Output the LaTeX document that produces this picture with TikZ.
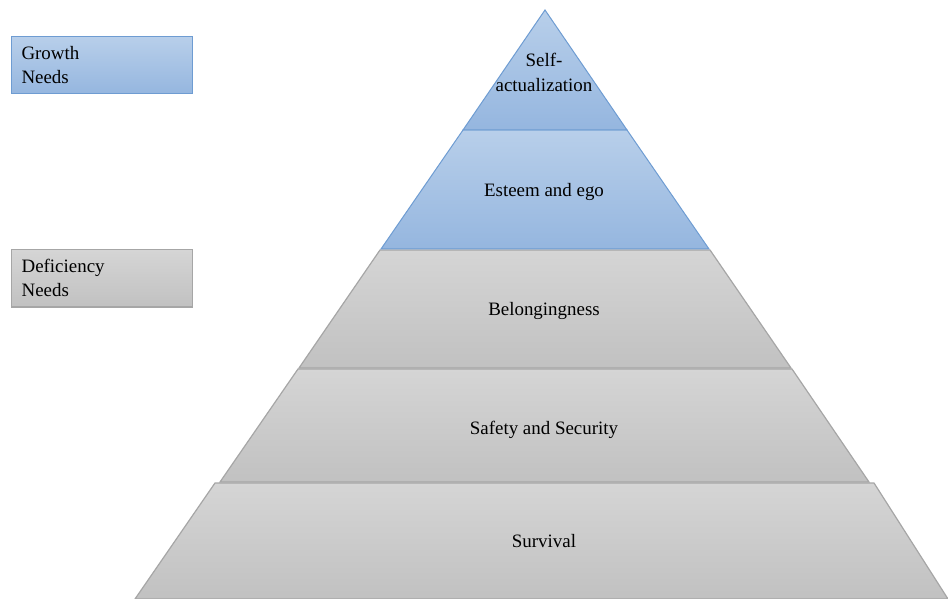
\documentclass[tikz,border=0pt]{standalone}
\usepackage{fontspec}
\setmainfont{Liberation Serif}
\newfontfamily\labelfont{Liberation Serif}
\definecolor{blueTop}{HTML}{B8CFEA}
\definecolor{blueBot}{HTML}{95B6DF}
\definecolor{blueLine}{HTML}{6E9CD2}
\definecolor{grayTop}{HTML}{D5D5D5}
\definecolor{grayBot}{HTML}{C1C1C1}
\definecolor{grayLine}{HTML}{A6A6A6}
\begin{document}
\begin{tikzpicture}[x=1bp,y=-1bp,
  bluelayer/.style={draw=blueLine, line width=1bp, line join=miter, top color=blueTop, bottom color=blueBot},
  graylayer/.style={draw=grayLine, line width=1.2bp, line join=miter, top color=grayTop, bottom color=grayBot},
  layertext/.style={font=\labelfont\fontsize{19}{25}\selectfont, align=center, inner sep=0pt},
  legendbox/.style={minimum width=181bp, minimum height=57bp, anchor=north west,
    text width=161bp, align=left, inner sep=10bp, font=\labelfont\fontsize{19}{24}\selectfont}]
\useasboundingbox (0,0) rectangle (948,599);

% pyramid layers, bottom to top
\path[graylayer] (215,483) -- (874,483) -- (948,599) -- (135,599) -- cycle;
\path[graylayer] (298,369) -- (792,369) -- (869,482) -- (220,482) -- cycle;
\path[graylayer] (380,250) -- (710,250) -- (791,368) -- (299,368) -- cycle;
\path[bluelayer] (463,130) -- (627,130) -- (709,249) -- (381,249) -- cycle;
\path[bluelayer] (545,10) -- (627,130) -- (463,130) -- cycle;

% layer labels
\node[layertext] (selfact) at (544,72) {Self-\\actualization};
\node[layertext] (esteem) at (544,192) {Esteem and ego};
\node[layertext] (belong) at (544,311) {Belongingness};
\node[layertext] (safety) at (544,430) {Safety and Security};
\node[layertext] (survival) at (544,541) {Survival};

% legend
\node[legendbox, draw=blueLine, line width=1bp, top color=blueTop, bottom color=blueBot]
  (growth) at (11,36) {Growth\\Needs};
\node[legendbox, draw=grayLine, line width=1.2bp, top color=grayTop, bottom color=grayBot]
  (deficiency) at (11,249) {Deficiency\\Needs};
\end{tikzpicture}
\end{document}
